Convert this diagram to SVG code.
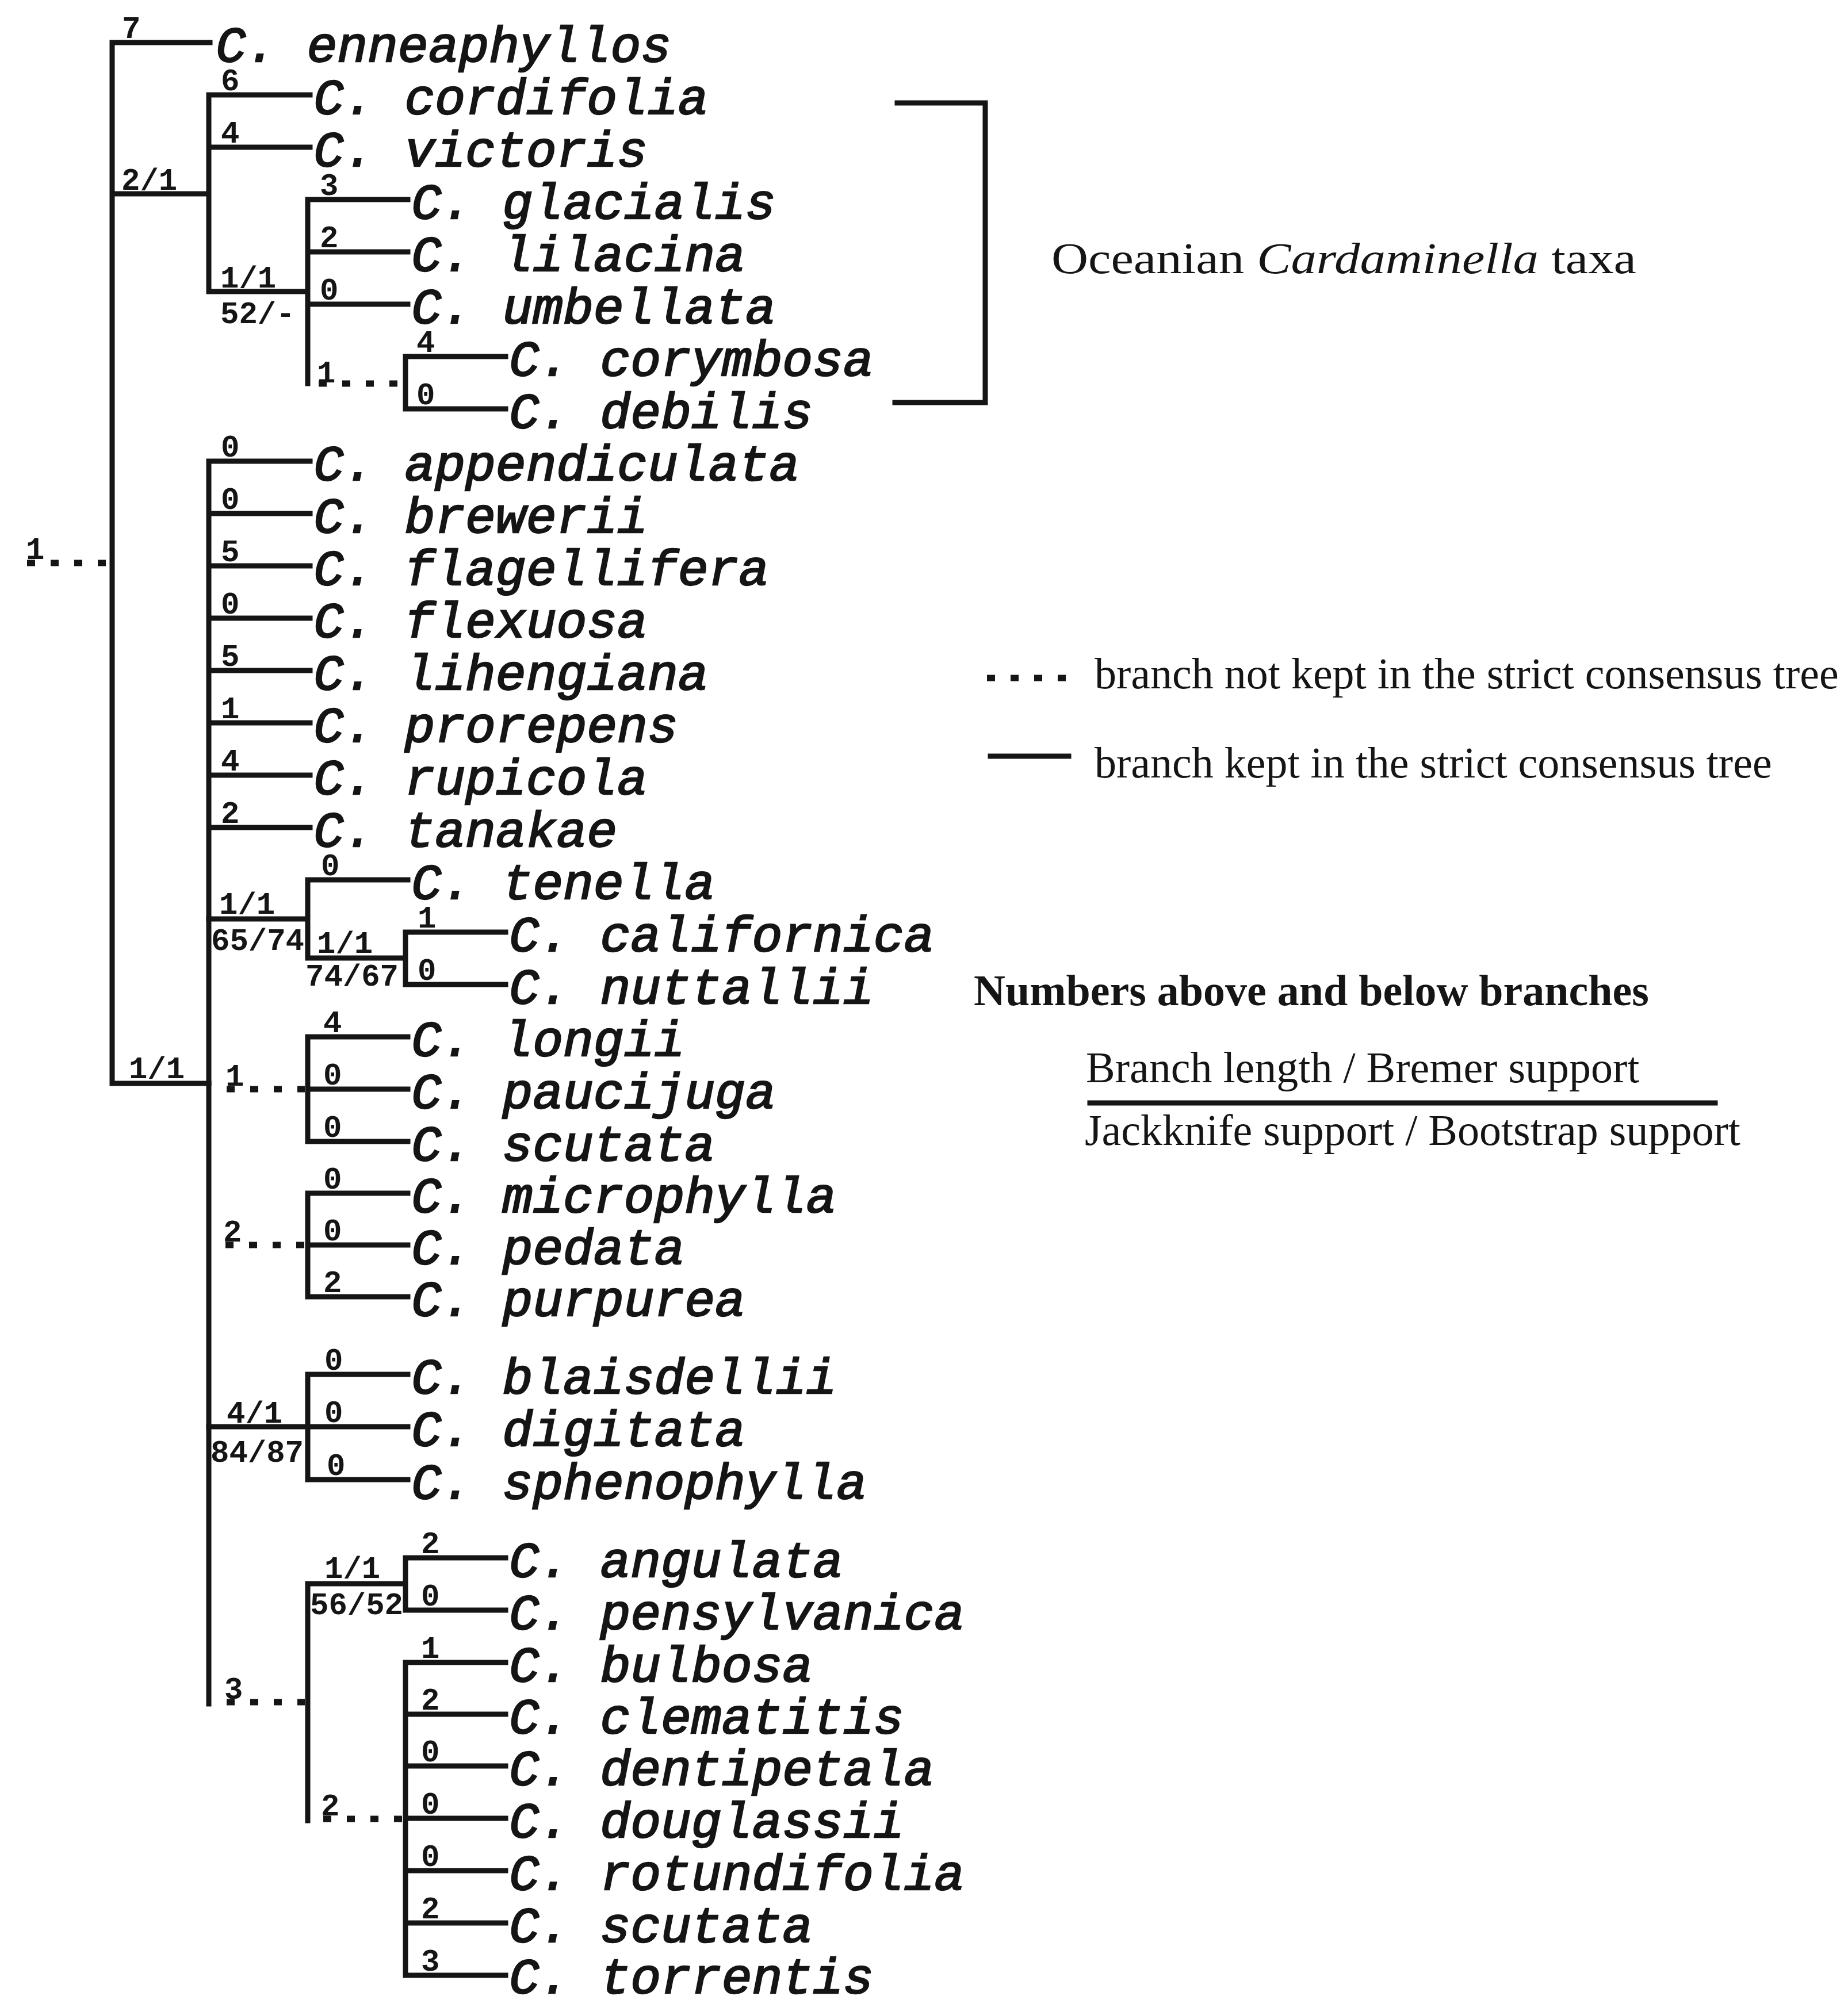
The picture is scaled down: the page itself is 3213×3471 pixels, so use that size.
<svg xmlns="http://www.w3.org/2000/svg" width="3213" height="3471" viewBox="0 0 3213 3471">
<style>
.tx{font-family:"Liberation Mono","Courier New",monospace;font-style:italic;font-size:88px;fill:#151515;stroke:#151515;stroke-width:2.5}
.nm{font-family:"Liberation Mono","Courier New",monospace;font-weight:bold;font-size:54px;fill:#151515}
.lg{font-family:"Liberation Serif","Times New Roman",serif;font-size:76px;fill:#151515}
.br{stroke:#151515;stroke-width:9;fill:none;stroke-linecap:square}
.dt{stroke:#151515;stroke-width:11;fill:none;stroke-dasharray:14 27}
</style>
<rect width="3213" height="3471" fill="#fff"/>
<g id="connectors">
<path class="br" d="M365,74H195V1884H363M195,337H363M539,165H363V507H535M363,256H539M709,347H535V667M535,438H709M535,529H709M879,620H705V711H879"/>
<path class="br" d="M539,802H363V2963M363,893H539M363,984H539M363,1075H539M363,1166H539M363,1257H539M363,1348H539M363,1439H539"/>
<path class="br" d="M363,1598H535M709,1530H535V1666H705M879,1621H705V1712H879"/>
<path class="br" d="M709,1803H535V1985H709M535,1894H709"/>
<path class="br" d="M709,2075H535V2255H709M535,2165H709"/>
<path class="br" d="M363,2481H535M709,2390H535V2573H709M535,2481H709"/>
<path class="br" d="M705,2754H535V3166M879,2709H705V2800H879"/>
<path class="br" d="M879,2891H705V3435H879M705,2981H879M705,3071H879M705,3162H879M705,3253H879M705,3344H879"/>
<line class="dt" x1="47" y1="979" x2="190" y2="979"/>
<line class="dt" x1="554" y1="667" x2="700" y2="667"/>
<line class="dt" x1="394" y1="1894" x2="530" y2="1894"/>
<line class="dt" x1="392" y1="2165" x2="530" y2="2165"/>
<line class="dt" x1="394" y1="2960" x2="530" y2="2960"/>
<line class="dt" x1="562" y1="3163" x2="700" y2="3163"/>
</g>
<g id="support-labels">
<text class="nm" x="212" y="66">7</text>
<text class="nm" x="211" y="330">2/1</text>
<text class="nm" x="384" y="157">6</text>
<text class="nm" x="384" y="248">4</text>
<text class="nm" x="383" y="500">1/1</text>
<text class="nm" x="383" y="562">52/-</text>
<text class="nm" x="556" y="339">3</text>
<text class="nm" x="556" y="430">2</text>
<text class="nm" x="556" y="521">0</text>
<text class="nm" x="551" y="665">1</text>
<text class="nm" x="724" y="612">4</text>
<text class="nm" x="724" y="703">0</text>
<text class="nm" x="45" y="972">1</text>
<text class="nm" x="224" y="1875">1/1</text>
<text class="nm" x="384" y="794">0</text>
<text class="nm" x="384" y="885">0</text>
<text class="nm" x="384" y="976">5</text>
<text class="nm" x="384" y="1067">0</text>
<text class="nm" x="384" y="1158">5</text>
<text class="nm" x="384" y="1249">1</text>
<text class="nm" x="384" y="1340">4</text>
<text class="nm" x="384" y="1431">2</text>
<text class="nm" x="381" y="1589">1/1</text>
<text class="nm" x="367" y="1652">65/74</text>
<text class="nm" x="558" y="1522">0</text>
<text class="nm" x="551" y="1657">1/1</text>
<text class="nm" x="531" y="1714">74/67</text>
<text class="nm" x="726" y="1613">1</text>
<text class="nm" x="726" y="1704">0</text>
<text class="nm" x="392" y="1888">1</text>
<text class="nm" x="562" y="1795">4</text>
<text class="nm" x="562" y="1886">0</text>
<text class="nm" x="562" y="1977">0</text>
<text class="nm" x="388" y="2159">2</text>
<text class="nm" x="562" y="2067">0</text>
<text class="nm" x="562" y="2157">0</text>
<text class="nm" x="562" y="2247">2</text>
<text class="nm" x="394" y="2474">4/1</text>
<text class="nm" x="366" y="2542">84/87</text>
<text class="nm" x="564" y="2382">0</text>
<text class="nm" x="564" y="2473">0</text>
<text class="nm" x="568" y="2565">0</text>
<text class="nm" x="390" y="2954">3</text>
<text class="nm" x="564" y="2744">1/1</text>
<text class="nm" x="539" y="2807">56/52</text>
<text class="nm" x="732" y="2701">2</text>
<text class="nm" x="732" y="2792">0</text>
<text class="nm" x="558" y="3157">2</text>
<text class="nm" x="732" y="2883">1</text>
<text class="nm" x="732" y="2973">2</text>
<text class="nm" x="732" y="3063">0</text>
<text class="nm" x="732" y="3154">0</text>
<text class="nm" x="732" y="3245">0</text>
<text class="nm" x="732" y="3336">2</text>
<text class="nm" x="732" y="3427">3</text>
</g>
<g id="taxa">
<g id="t-enneaphyllos"><text class="tx" x="375" y="107">C. enneaphyllos</text></g>
<g id="t-cordifolia"><text class="tx" x="545" y="198">C. cordifolia</text></g>
<g id="t-victoris"><text class="tx" x="545" y="289">C. victoris</text></g>
<g id="t-glacialis"><text class="tx" x="715" y="380">C. glacialis</text></g>
<g id="t-lilacina"><text class="tx" x="715" y="471">C. lilacina</text></g>
<g id="t-umbellata"><text class="tx" x="715" y="562">C. umbellata</text></g>
<g id="t-corymbosa"><text class="tx" x="885" y="653">C. corymbosa</text></g>
<g id="t-debilis"><text class="tx" x="885" y="744">C. debilis</text></g>
<g id="t-appendiculata"><text class="tx" x="545" y="835">C. appendiculata</text></g>
<g id="t-brewerii"><text class="tx" x="545" y="926">C. brewerii</text></g>
<g id="t-flagellifera"><text class="tx" x="545" y="1017">C. flagellifera</text></g>
<g id="t-flexuosa"><text class="tx" x="545" y="1108">C. flexuosa</text></g>
<g id="t-lihengiana"><text class="tx" x="545" y="1199">C. lihengiana</text></g>
<g id="t-prorepens"><text class="tx" x="545" y="1290">C. prorepens</text></g>
<g id="t-rupicola"><text class="tx" x="545" y="1381">C. rupicola</text></g>
<g id="t-tanakae"><text class="tx" x="545" y="1472">C. tanakae</text></g>
<g id="t-tenella"><text class="tx" x="715" y="1563">C. tenella</text></g>
<g id="t-californica"><text class="tx" x="885" y="1654">C. californica</text></g>
<g id="t-nuttallii"><text class="tx" x="885" y="1745">C. nuttallii</text></g>
<g id="t-longii"><text class="tx" x="715" y="1836">C. longii</text></g>
<g id="t-paucijuga"><text class="tx" x="715" y="1927">C. paucijuga</text></g>
<g id="t-scutata1"><text class="tx" x="715" y="2018">C. scutata</text></g>
<g id="t-microphylla"><text class="tx" x="715" y="2108">C. microphylla</text></g>
<g id="t-pedata"><text class="tx" x="715" y="2198">C. pedata</text></g>
<g id="t-purpurea"><text class="tx" x="715" y="2288">C. purpurea</text></g>
<g id="t-blaisdellii"><text class="tx" x="715" y="2423">C. blaisdellii</text></g>
<g id="t-digitata"><text class="tx" x="715" y="2514">C. digitata</text></g>
<g id="t-sphenophylla"><text class="tx" x="715" y="2606">C. sphenophylla</text></g>
<g id="t-angulata"><text class="tx" x="885" y="2742">C. angulata</text></g>
<g id="t-pensylvanica"><text class="tx" x="885" y="2833">C. pensylvanica</text></g>
<g id="t-bulbosa"><text class="tx" x="885" y="2924">C. bulbosa</text></g>
<g id="t-clematitis"><text class="tx" x="885" y="3014">C. clematitis</text></g>
<g id="t-dentipetala"><text class="tx" x="885" y="3104">C. dentipetala</text></g>
<g id="t-douglassii"><text class="tx" x="885" y="3195">C. douglassii</text></g>
<g id="t-rotundifolia"><text class="tx" x="885" y="3286">C. rotundifolia</text></g>
<g id="t-scutata2"><text class="tx" x="885" y="3377">C. scutata</text></g>
<g id="t-torrentis"><text class="tx" x="885" y="3466">C. torrentis</text></g>
</g>
<g id="oceanian-bracket">
<path class="br" d="M1560,179H1713V700H1556" stroke-linecap="butt"/>
<text class="lg" x="1828" y="475" font-size="88" textLength="1017" lengthAdjust="spacingAndGlyphs">Oceanian <tspan font-style="italic">Cardaminella</tspan> taxa</text>
</g>
<g id="legend">
<line class="dt" x1="1716" y1="1179" x2="1860" y2="1179" stroke-dasharray="11 34"/>
<text class="lg" x="1903" y="1197">branch not kept in the strict consensus tree</text>
<line class="br" x1="1722" y1="1315" x2="1858" y2="1315"/>
<text class="lg" x="1903" y="1352">branch kept in the strict consensus tree</text>
<text class="lg" x="1693" y="1748" font-weight="bold">Numbers above and below branches</text>
<text class="lg" x="1888" y="1882">Branch length / Bremer support</text>
<line class="br" x1="1895" y1="1918" x2="2982" y2="1918"/>
<text class="lg" x="1886" y="1991">Jackknife support / Bootstrap support</text>
</g>
</svg>
